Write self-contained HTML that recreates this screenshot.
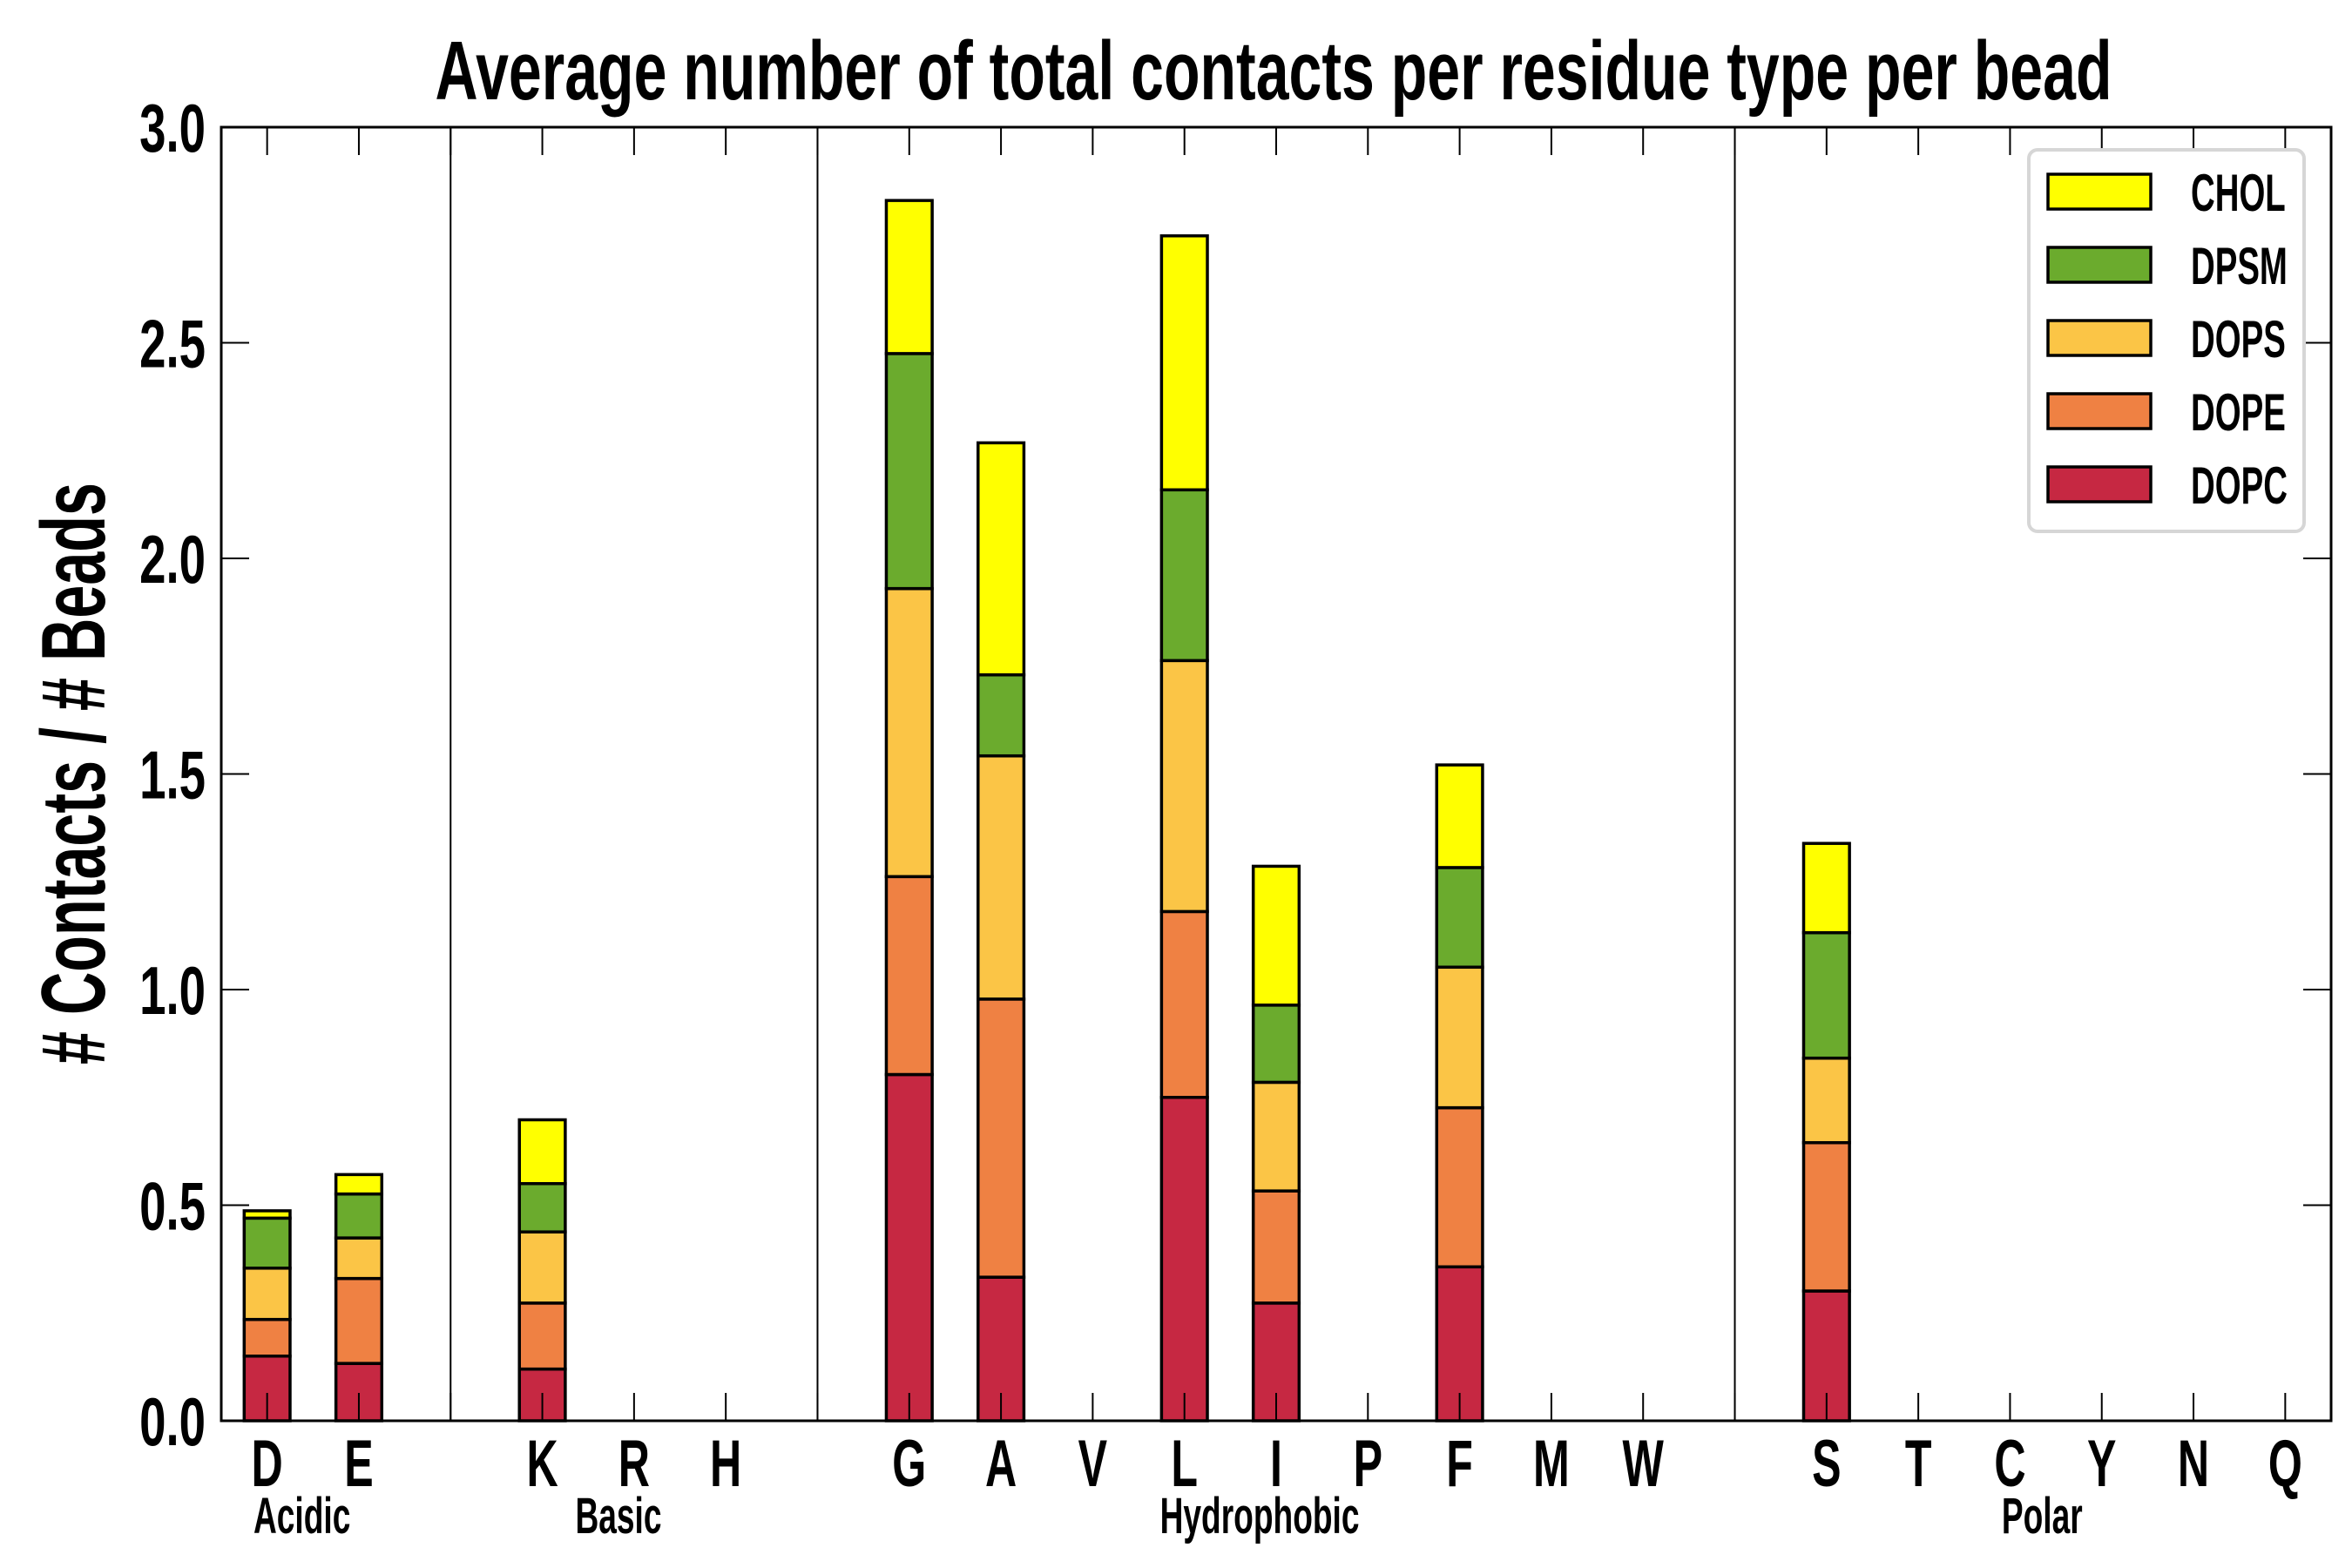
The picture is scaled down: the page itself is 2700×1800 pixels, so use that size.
<!DOCTYPE html>
<html><head><meta charset="utf-8"><style>
html,body{margin:0;padding:0;background:#fff}
svg{display:block}
text{font-family:"Liberation Sans",sans-serif;font-weight:bold;fill:#000}
</style></head><body>
<svg id="chart" width="2700" height="1800" viewBox="0 0 2700 1800" xmlns="http://www.w3.org/2000/svg">
<g id="plot"></g>
</svg>
<script>
const categories = ["D","E","","K","R","H","","G","A","V","L","I","P","F","M","W","","S","T","C","Y","N","Q"];
const seriesNames = ["DOPC","DOPE","DOPS","DPSM","CHOL"];
const dopc = [0.150,0.133,0,0.120,0,0,0,0.803,0.333,0,0.750,0.273,0,0.357,0,0,0,0.301,0,0,0,0,0];
const dope = [0.085,0.197,0,0.153,0,0,0,0.459,0.645,0,0.431,0.260,0,0.369,0,0,0,0.344,0,0,0,0,0];
const dops = [0.119,0.094,0,0.165,0,0,0,0.668,0.564,0,0.582,0.252,0,0.326,0,0,0,0.196,0,0,0,0,0];
const dpsm = [0.116,0.102,0,0.112,0,0,0,0.545,0.188,0,0.396,0.179,0,0.231,0,0,0,0.291,0,0,0,0,0];
const chol = [0.017,0.045,0,0.148,0,0,0,0.355,0.538,0,0.589,0.322,0,0.238,0,0,0,0.207,0,0,0,0,0];
const yTicks = [0,0.5,1.0,1.5,2.0,2.5,3.0];
const yTickLabels = ["0.0","0.5","1.0","1.5","2.0","2.5","3.0"];
const dividers = [2,6,16];
const groupLabels = ["Acidic","Basic","Hydrophobic","Polar"];
const groupPos = [0.38,3.83,10.82,19.35];

const colors = ["#c62842","#ef8143","#fbc546","#6bab2d","#ffff00"];
const L=254, R=2676, T=146, B=1631;
const xMin=-0.5, xMax=22.5, yMax=3.0;
const x = v => L + (v - xMin) / (xMax - xMin) * (R - L);
const y = v => B - v / yMax * (B - T);
const bw = 0.5;
const NS="http://www.w3.org/2000/svg";
const g=document.getElementById('plot');
function mk(tag, attrs, parent){const e=document.createElementNS(NS,tag);for(const k in attrs)e.setAttribute(k,attrs[k]);(parent||g).appendChild(e);return e;}
function txt(px,py,anchor,size,sx,parent){return mk('text',{x:0,y:0,'text-anchor':anchor,'font-size':size,transform:'translate('+px+','+py+') scale('+sx+',1)'},parent);}

const series=[dopc,dope,dops,dpsm,chol];
categories.forEach((c,i)=>{
  let base=0;
  series.forEach((s,k)=>{
    const v=s[i];
    const r=mk('rect',{x:x(i-bw/2),y:y(base+v),width:x(bw)-x(0),height:Math.max(0,y(base)-y(base+v)),fill:colors[k],stroke:'#000','stroke-width':3.5});
    
    
    base+=v;
  });
});
dividers.forEach(d=>{
  const l=mk('line',{x1:x(d),x2:x(d),y1:T,y2:B,stroke:'#000','stroke-width':2});
  
  
});
categories.forEach((c,i)=>{
  const t1=mk('line',{x1:x(i),x2:x(i),y1:T,y2:T+32,stroke:'#000','stroke-width':2});
  
  
  const t2=mk('line',{x1:x(i),x2:x(i),y1:B,y2:B-32,stroke:'#000','stroke-width':2});
  
  
  if(c){
    const t=txt(x(i),1706,'middle',76,0.66);
    t.textContent=c;
    
    
  }
});
yTicks.forEach((v,i)=>{
  const a=mk('line',{x1:L,x2:L+32,y1:y(v),y2:y(v),stroke:'#000','stroke-width':2});
  
  
  const b=mk('line',{x1:R,x2:R-32,y1:y(v),y2:y(v),stroke:'#000','stroke-width':2});
  
  
  const t=txt(236,y(v)+28,'end',78,0.7);
  t.textContent=yTickLabels[i];
  
  
});
groupLabels.forEach((s,i)=>{
  const t=txt(x(groupPos[i]),1760,'middle',58,0.64);
  t.textContent=s;
  
  
});
const fr=mk('rect',{x:L,y:T,width:R-L,height:B-T,fill:'none',stroke:'#000','stroke-width':3});


const ti=mk('text',{x:1462,y:114,'text-anchor':'middle','font-size':96,textLength:1925,lengthAdjust:'spacingAndGlyphs'});
ti.textContent='Average number of total contacts per residue type per bead';


const yl=mk('text',{x:0,y:0,'text-anchor':'middle','font-size':104,textLength:668,lengthAdjust:'spacingAndGlyphs',transform:'translate(120,888) rotate(-90)'});
yl.textContent='# Contacts / # Beads';


const lg=mk('g',{});


mk('rect',{x:2329,y:172,width:316,height:438,rx:10,fill:'#fff',stroke:'#d6d6d6','stroke-width':4},lg);
const legOrder=[4,3,2,1,0];
legOrder.forEach((k,j)=>{
  const cy=220+j*84;
  const p=mk('rect',{x:2351,y:cy-20,width:118,height:40,fill:colors[k],stroke:'#000','stroke-width':3.5},lg);
  
  
  const t=txt(2515,cy+22,'start',60,0.64,lg);
  t.textContent=seriesNames[k];
  
  
});
</script>
</body></html>
